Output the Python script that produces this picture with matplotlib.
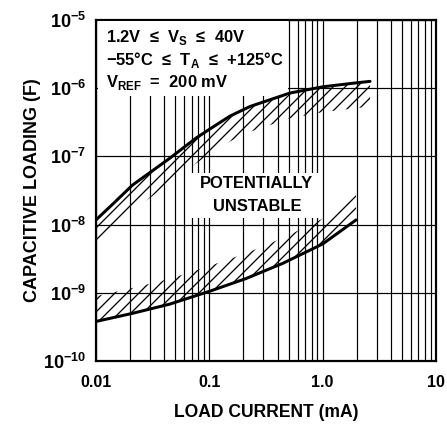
import numpy as np
import matplotlib
matplotlib.use("Agg")
import matplotlib.pyplot as plt
from matplotlib.patches import Rectangle
from matplotlib.ticker import FixedLocator, NullFormatter, LogLocator

plt.rcParams['font.family'] = ['Liberation Sans', 'DejaVu Sans']
plt.rcParams['font.weight'] = 'bold'
plt.rcParams['hatch.linewidth'] = 1.3
plt.rcParams['hatch.color'] = 'black'

# Stability boundaries: load current (mA) vs capacitive loading (F)
upper_current = [0.01, 0.0145, 0.021, 0.0444, 0.0764, 0.104, 0.152, 0.229, 0.515, 1.01, 2.0, 2.62]
upper_cap = [1.17e-8, 2.1e-8, 3.8e-8, 9.3e-8, 1.86e-7, 2.6e-7, 3.9e-7, 5.4e-7, 8.5e-7,
             1.05e-6, 1.2e-6, 1.26e-6]

lower_current = [0.01, 0.021, 0.0444, 0.1, 0.211, 0.444, 1.0, 1.97]
lower_cap = [3.8e-10, 5.0e-10, 6.8e-10, 1.05e-9, 1.62e-9, 2.7e-9, 5.2e-9, 1.17e-8]

x_ticks = [0.01, 0.1, 1.0, 10]
x_labels = ['0.01', '0.1', '1.0', '10']
y_ticks = [1e-10, 1e-9, 1e-8, 1e-7, 1e-6, 1e-5]
y_labels = ['10$^{\\mathregular{−10}}$', '10$^{\\mathregular{−9}}$', '10$^{\\mathregular{−8}}$',
            '10$^{\\mathregular{−7}}$', '10$^{\\mathregular{−6}}$', '10$^{\\mathregular{−5}}$']

conditions = ['1.2V  ≤  V$_{\\mathregular{S}}$  ≤  40V',
              '−55°C  ≤  T$_{\\mathregular{A}}$  ≤  +125°C',
              'V$_{\\mathregular{REF}}$  =  200 mV']

HATCH_DEPTH = 2.35  # depth of the hatched band, as a ratio in C

fig = plt.figure(figsize=(447 / 72, 432 / 72), dpi=72)
ax = fig.add_axes([96 / 447, 1 - 361 / 432, 340 / 447, 341 / 432])
ax.set_xscale('log')
ax.set_yscale('log')
ax.set_xlim(0.01, 10)
ax.set_ylim(1e-10, 1e-5)

# grid: every minor step on x, decades only on y
ax.xaxis.set_major_locator(FixedLocator(x_ticks))
ax.xaxis.set_minor_locator(LogLocator(base=10, subs=np.arange(2, 10)))
ax.xaxis.set_minor_formatter(NullFormatter())
ax.yaxis.set_major_locator(FixedLocator(y_ticks))
ax.yaxis.set_minor_locator(FixedLocator([]))
ax.set_xticklabels(x_labels)
ax.set_yticklabels(y_labels)
ax.grid(which='both', axis='x', color='black', lw=1.2)
ax.grid(which='major', axis='y', color='black', lw=1.2)
ax.tick_params(which='both', length=0)
ax.tick_params(axis='x', pad=14, labelsize=16)
ax.tick_params(axis='y', pad=10, labelsize=18)
for s in ax.spines.values():
    s.set_linewidth(2.2)

# hatched unstable side of each boundary
uc = np.array(upper_cap)
lc = np.array(lower_cap)
ax.fill_between(upper_current, uc, uc / HATCH_DEPTH, facecolor='none',
                edgecolor='black', hatch='//', linewidth=0, zorder=2)
ax.fill_between(lower_current, lc, lc * HATCH_DEPTH, facecolor='none',
                edgecolor='black', hatch='//', linewidth=0, zorder=2)
ax.plot(upper_current, uc, color='black', lw=3, solid_capstyle='round', zorder=6)
ax.plot(lower_current, lc, color='black', lw=3, solid_capstyle='round', zorder=6)

# conditions block in the upper left
ax.add_patch(Rectangle((0.006, 0.777), 0.559, 0.22, transform=ax.transAxes,
                       facecolor='white', edgecolor='none', zorder=4))
for i, line in enumerate(conditions):
    ax.text(0.03, 0.950 - i * 0.066, line, transform=ax.transAxes, fontsize=16.5,
            fontweight='bold', va='center', ha='left', zorder=5)

# label for the region between the boundaries
ax.add_patch(Rectangle((0.276, 0.419), 0.386, 0.132, transform=ax.transAxes,
                       facecolor='white', edgecolor='none', zorder=4))
ax.text(0.473, 0.520, 'POTENTIALLY', transform=ax.transAxes, fontsize=16.5,
        fontweight='bold', ha='center', va='center', zorder=5)
ax.text(0.473, 0.452, 'UNSTABLE', transform=ax.transAxes, fontsize=16.5,
        fontweight='bold', ha='center', va='center', zorder=5)

ax.set_xlabel('LOAD CURRENT (mA)', fontsize=17.5, fontweight='bold', labelpad=14)
ax.set_ylabel('CAPACITIVE LOADING (F)', fontsize=18, fontweight='bold', labelpad=2)

fig.savefig('out.png', dpi=72)
